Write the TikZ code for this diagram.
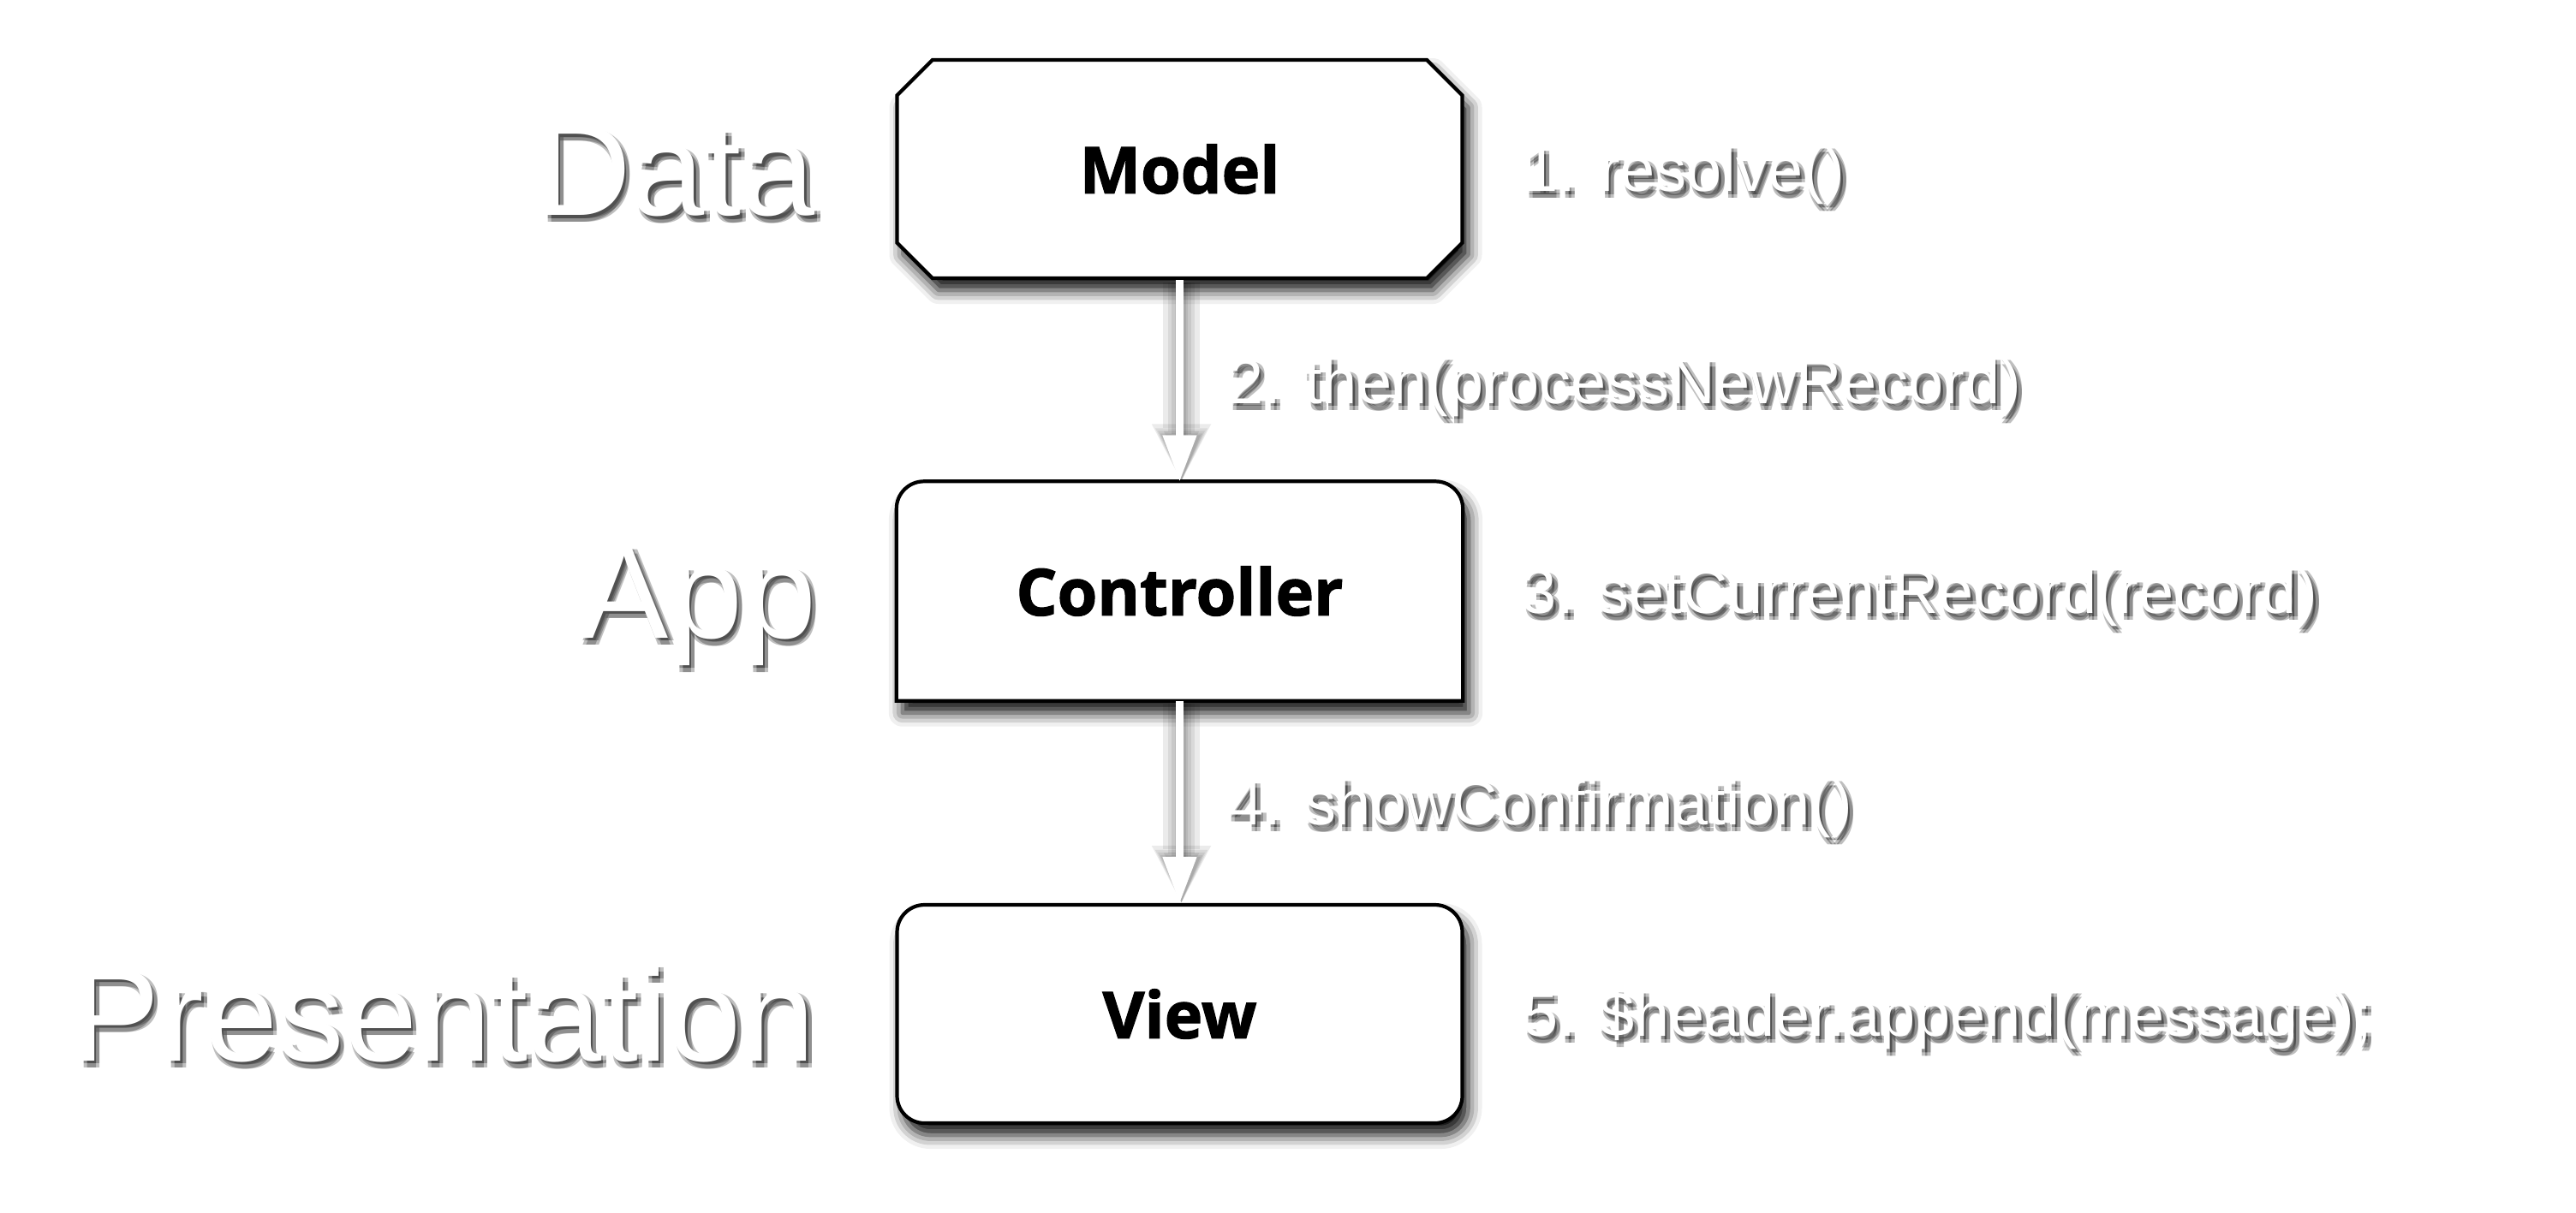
\documentclass[tikz,border=0pt]{standalone}
\usepackage{fontspec}
\setmainfont{Liberation Sans}
\newfontfamily\boitefont[BoldFeatures={FakeBold=1.6}]{Open Sans}
\usetikzlibrary{positioning,calc,shapes.misc,shadows.blur,arrows.meta,backgrounds}

\tikzset{
  boite/.style={minimum width=6.6cm, minimum height=2.55cm, inner sep=0pt,
    font=\boitefont\bfseries\fontsize{21.5}{26}\selectfont},
  cadre/.style={draw=black, line width=1.2pt, fill=white,
    blur shadow={shadow xshift=0.07cm, shadow yshift=-0.14cm, shadow blur radius=0.16cm, shadow opacity=95}},
  couche/.style={inner sep=0pt, text height=31pt, text depth=0pt, font=\fontsize{44}{50}\selectfont},
  appel/.style={inner sep=0pt, text height=15pt, text depth=0pt, font=\fontsize{21}{25}\selectfont},
  fleche/.style={draw=white, line width=2.3pt, -{Triangle[length=0.54cm,width=0.38cm]}},
  ombrefleche/.style={draw=black, opacity=0.08},
}

% texte blanc avec ombre grise
\newcommand{\ombretexte}[3]{%
  \foreach \dx/\dy [count=\i] in {0.025/-0.035,0.065/-0.035,0.025/-0.08,0.065/-0.08}{
    \node[#2, text=black, opacity=0.25, xshift=\dx cm, yshift=\dy cm] (#1-o\i) {#3};
  }
  \node[#2, text=white] (#1) {#3};
}

\begin{document}
\begin{tikzpicture}
\useasboundingbox (0,0) rectangle (30.08,-14.16);

% Les trois boites
\node[boite, cadre, chamfered rectangle, chamfered rectangle xsep=0.34cm] (model) at (13.775,-1.975) {Model};
\node[boite] (ctl) at (13.775,-6.905) {Controller};
\node[boite, cadre, rounded corners=0.32cm] (view) at (13.775,-11.845) {View};

% Contour du controleur (coins du haut arrondis)
\begin{scope}[on background layer]
\draw[cadre] (ctl.south west) [rounded corners=0.32cm] -- (ctl.north west) -- (ctl.north east) [sharp corners] -- (ctl.south east) -- cycle;
\end{scope}

% Ombres des fleches
\foreach \w/\l/\b in {12/0.68/0.64,9/0.63/0.56,6.5/0.6/0.5,4.5/0.57/0.45,3.2/0.55/0.41}{
  \draw[ombrefleche, line width=\w pt, -{Triangle[length=\l cm,width=\b cm]}] ([shift={(0.02,-0.03)}]model.south) -- ([shift={(0.02,-0.01)}]ctl.north);
  \draw[ombrefleche, line width=\w pt, -{Triangle[length=\l cm,width=\b cm]}] ([shift={(0.02,-0.03)}]ctl.south) -- ([shift={(0.02,-0.01)}]view.north);
}

% Fleches
\draw[fleche] (model.south) -- (ctl.north);
\draw[fleche] (ctl.south) -- (view.north);

% Milieux des fleches
\coordinate (m2) at ($(model.south)!0.5!(ctl.north)$);
\coordinate (m4) at ($(ctl.south)!0.5!(view.north)$);

% Couches a gauche
\ombretexte{data}{couche, left=0.93cm of model}{Data}
\ombretexte{app}{couche, left=0.93cm of ctl}{App}
\ombretexte{pres}{couche, left=0.93cm of view}{Presentation}

% Etapes
\ombretexte{etape1}{appel, right=0.68cm of model}{1. resolve()}
\ombretexte{etape2}{appel, right=0.56cm of m2}{2. then(processNewRecord)}
\ombretexte{etape3}{appel, right=0.68cm of ctl}{3. setCurrentRecord(record)}
\ombretexte{etape4}{appel, right=0.56cm of m4}{4. showConfirmation()}
\ombretexte{etape5}{appel, right=0.68cm of view}{5. \$header.append(message);}

\end{tikzpicture}
\end{document}
